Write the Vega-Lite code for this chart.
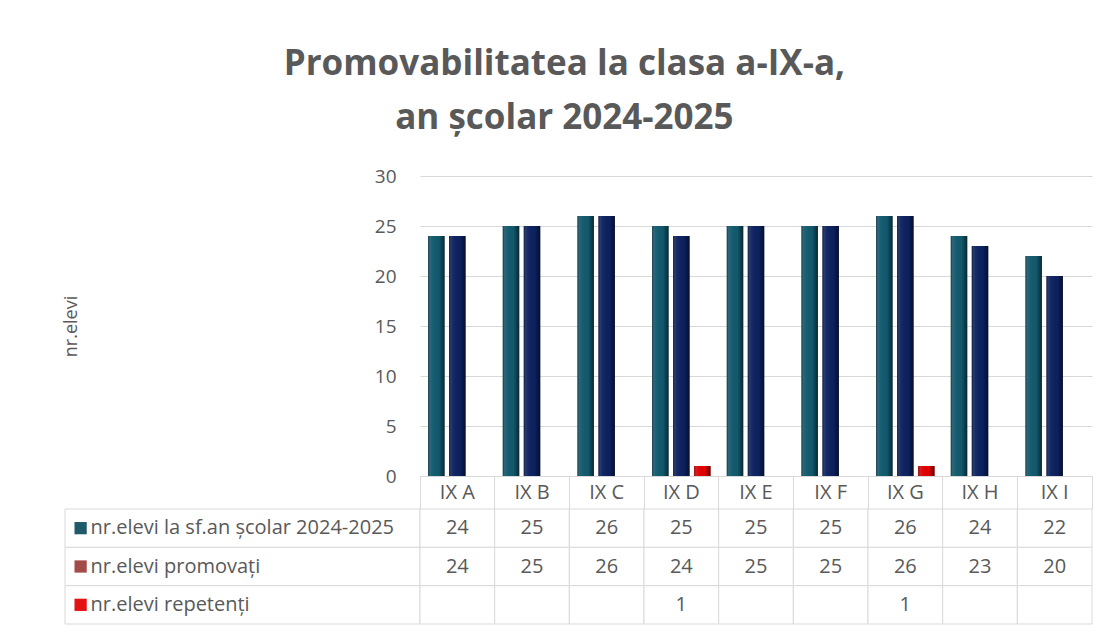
{
  "$schema": "https://vega.github.io/schema/vega-lite/v6.json",
  "background": "white",
  "padding": {"left": 62, "top": 47, "right": 24, "bottom": 12},
  "bounds": "flush",
  "config": {"font": "Open Sans", "view": {"stroke": null}},
  "title": {
    "text": ["Promovabilitatea la clasa a-IX-a,", "an școlar 2024-2025"],
    "fontSize": 35, "fontWeight": "bold", "color": "#595959", "anchor": "middle",
    "lineHeight": 54, "offset": 31, "dx": -13, "font": "Open Sans"
  },
  "datasets": {
    "d": [
      {"clasa": "IX A", "serie": "nr.elevi la sf.an școlar 2024-2025", "valoare": 24},
      {"clasa": "IX B", "serie": "nr.elevi la sf.an școlar 2024-2025", "valoare": 25},
      {"clasa": "IX C", "serie": "nr.elevi la sf.an școlar 2024-2025", "valoare": 26},
      {"clasa": "IX D", "serie": "nr.elevi la sf.an școlar 2024-2025", "valoare": 25},
      {"clasa": "IX E", "serie": "nr.elevi la sf.an școlar 2024-2025", "valoare": 25},
      {"clasa": "IX F", "serie": "nr.elevi la sf.an școlar 2024-2025", "valoare": 25},
      {"clasa": "IX G", "serie": "nr.elevi la sf.an școlar 2024-2025", "valoare": 26},
      {"clasa": "IX H", "serie": "nr.elevi la sf.an școlar 2024-2025", "valoare": 24},
      {"clasa": "IX I", "serie": "nr.elevi la sf.an școlar 2024-2025", "valoare": 22},
      {"clasa": "IX A", "serie": "nr.elevi promovați", "valoare": 24},
      {"clasa": "IX B", "serie": "nr.elevi promovați", "valoare": 25},
      {"clasa": "IX C", "serie": "nr.elevi promovați", "valoare": 26},
      {"clasa": "IX D", "serie": "nr.elevi promovați", "valoare": 24},
      {"clasa": "IX E", "serie": "nr.elevi promovați", "valoare": 25},
      {"clasa": "IX F", "serie": "nr.elevi promovați", "valoare": 25},
      {"clasa": "IX G", "serie": "nr.elevi promovați", "valoare": 26},
      {"clasa": "IX H", "serie": "nr.elevi promovați", "valoare": 23},
      {"clasa": "IX I", "serie": "nr.elevi promovați", "valoare": 20},
      {"clasa": "IX A", "serie": "nr.elevi repetenți", "valoare": null},
      {"clasa": "IX B", "serie": "nr.elevi repetenți", "valoare": null},
      {"clasa": "IX C", "serie": "nr.elevi repetenți", "valoare": null},
      {"clasa": "IX D", "serie": "nr.elevi repetenți", "valoare": 1},
      {"clasa": "IX E", "serie": "nr.elevi repetenți", "valoare": null},
      {"clasa": "IX F", "serie": "nr.elevi repetenți", "valoare": null},
      {"clasa": "IX G", "serie": "nr.elevi repetenți", "valoare": 1},
      {"clasa": "IX H", "serie": "nr.elevi repetenți", "valoare": null},
      {"clasa": "IX I", "serie": "nr.elevi repetenți", "valoare": null}
    ]
  },
  "data": {"name": "d"},
  "columns": 2,
  "spacing": {"row": 33, "column": 0},
  "resolve": {"scale": {"x": "independent", "y": "independent"}},
  "concat": [
    {"width": 355, "height": 300, "mark": {"type": "point", "opacity": 0}, "encoding": {}},
    {
      "width": 672, "height": 300,
      "transform": [{"filter": "datum.valoare != null"}],
      "encoding": {
        "x": {"field": "clasa", "type": "nominal", "sort": null,
          "scale": {"paddingInner": 0, "paddingOuter": 0},
          "axis": {"title": null, "orient": "bottom", "bandPosition": 1, "tickExtra": true,
            "ticks": true, "tickSize": 33, "tickColor": "#d9d9d9", "tickWidth": 1,
            "domain": true, "domainColor": "#d9d9d9", "labelAngle": 0, "labelFontSize": 20,
            "labelColor": "#595959", "labelBaseline": "middle", "labelPadding": -16.5, "grid": false}},
        "xOffset": {"field": "serie", "type": "nominal",
          "sort": ["nr.elevi la sf.an școlar 2024-2025", "nr.elevi promovați", "nr.elevi repetenți"],
          "scale": {"paddingInner": 0.214, "paddingOuter": 0.385}},
        "y": {"field": "valoare", "type": "quantitative",
          "scale": {"domain": [0, 30], "nice": false},
          "axis": {"title": "nr.elevi", "values": [0, 5, 10, 15, 20, 25, 30], "grid": true,
            "gridColor": "#d9d9d9", "domain": false, "ticks": false, "labelPadding": 24,
            "labelFontSize": 19, "labelColor": "#595959", "titleFontSize": 18,
            "titleFontWeight": "normal", "titleColor": "#595959", "titlePadding": 294}}
      },
      "layer": [
        {
          "mark": {"type": "bar"},
          "encoding": {
            "color": {"field": "serie", "type": "nominal",
              "scale": {"domain": ["nr.elevi la sf.an școlar 2024-2025", "nr.elevi promovați", "nr.elevi repetenți"],
                "range": ["#12596d", "#0c2160", "#e00000"]},
              "legend": null}
          }
        },
        {
          "mark": {"type": "bar", "color": {"gradient": "linear", "x1": 0, "x2": 1, "y1": 0, "y2": 0,
            "stops": [
              {"offset": 0, "color": "rgba(0,0,0,0.4)"},
              {"offset": 0.2, "color": "rgba(255,255,255,0.05)"},
              {"offset": 0.65, "color": "rgba(0,0,0,0)"},
              {"offset": 1, "color": "rgba(0,0,0,0.55)"}
            ]}}
        }
      ]
    },
    {
      "width": 355, "height": 115,
      "transform": [{"filter": "datum.clasa == 'IX A'"}],
      "encoding": {
        "y": {"field": "serie", "type": "nominal",
          "sort": ["nr.elevi la sf.an școlar 2024-2025", "nr.elevi promovați", "nr.elevi repetenți"],
          "scale": {"paddingInner": 0, "paddingOuter": 0}, "axis": null}
      },
      "layer": [
        {
          "mark": {"type": "rect", "fill": "white", "stroke": "#d9d9d9", "strokeWidth": 1},
          "encoding": {
            "x": {"datum": 0, "type": "quantitative", "scale": {"domain": [0, 1]}, "axis": null},
            "x2": {"datum": 1}
          }
        },
        {
          "mark": {"type": "point", "shape": "square", "filled": true, "size": 150, "opacity": 1},
          "encoding": {
            "x": {"datum": 0.044, "type": "quantitative"},
            "fill": {"field": "serie", "type": "nominal",
              "scale": {"domain": ["nr.elevi la sf.an școlar 2024-2025", "nr.elevi promovați", "nr.elevi repetenți"],
                "range": ["#1e5a6a", "#a24c49", "#e31313"]},
              "legend": null}
          }
        },
        {
          "mark": {"type": "text", "align": "left", "fontSize": 20, "color": "#595959"},
          "encoding": {
            "x": {"datum": 0.072, "type": "quantitative"},
            "text": {"field": "serie", "type": "nominal"}
          }
        }
      ]
    },
    {
      "width": 672, "height": 115,
      "encoding": {
        "x": {"field": "clasa", "type": "nominal", "sort": null,
          "scale": {"paddingInner": 0, "paddingOuter": 0}, "axis": null},
        "y": {"field": "serie", "type": "nominal",
          "sort": ["nr.elevi la sf.an școlar 2024-2025", "nr.elevi promovați", "nr.elevi repetenți"],
          "scale": {"paddingInner": 0, "paddingOuter": 0}, "axis": null}
      },
      "layer": [
        {"mark": {"type": "rect", "fill": "white", "stroke": "#d9d9d9", "strokeWidth": 1}},
        {
          "transform": [{"filter": "datum.valoare != null"}],
          "mark": {"type": "text", "fontSize": 20, "color": "#595959"},
          "encoding": {"text": {"field": "valoare", "type": "quantitative"}}
        }
      ]
    }
  ]
}
